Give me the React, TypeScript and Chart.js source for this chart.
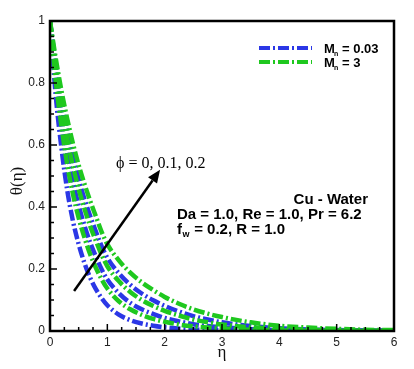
import React, { useEffect, useRef } from "react";
import { Chart, registerables } from "chart.js";

Chart.register(...registerables);

// eta values (x)
const ETA = [0, 0.1, 0.2, 0.3, 0.4, 0.5, 0.6, 0.7, 0.8, 0.9, 1.0, 1.2, 1.4, 1.6, 1.8, 2.0, 2.25, 2.5, 2.75, 3.0, 3.5, 4.0, 4.5, 5.0, 5.5, 6.0];

// Mn = 0.03 (blue), phi = 0, 0.1, 0.2
const BLUE_PHI0 = [1, 0.76, 0.59, 0.455, 0.355, 0.28, 0.22, 0.172, 0.135, 0.106, 0.083, 0.053, 0.035, 0.024, 0.017, 0.012, 0.008, 0.005, 0.003, 0.002, 0.001, 0, 0, 0, 0, 0];
const BLUE_PHI1 = [1, 0.826, 0.689, 0.574, 0.481, 0.405, 0.341, 0.286, 0.24, 0.199, 0.166, 0.122, 0.091, 0.07, 0.055, 0.042, 0.031, 0.022, 0.016, 0.012, 0.006, 0.003, 0.002, 0.001, 0.001, 0];
const BLUE_PHI2 = [1, 0.862, 0.746, 0.647, 0.562, 0.489, 0.426, 0.371, 0.321, 0.274, 0.236, 0.186, 0.149, 0.121, 0.099, 0.081, 0.063, 0.048, 0.037, 0.028, 0.016, 0.009, 0.005, 0.003, 0.002, 0.001];

// Mn = 3 (green), phi = 0, 0.1, 0.2
const GREEN_PHI0 = [1, 0.807, 0.66, 0.538, 0.442, 0.365, 0.302, 0.248, 0.204, 0.167, 0.137, 0.096, 0.07, 0.052, 0.039, 0.03, 0.021, 0.015, 0.011, 0.008, 0.004, 0.002, 0.001, 0.001, 0, 0];
const GREEN_PHI1 = [1, 0.85, 0.726, 0.621, 0.532, 0.458, 0.395, 0.339, 0.291, 0.246, 0.209, 0.161, 0.126, 0.1, 0.081, 0.065, 0.05, 0.037, 0.028, 0.021, 0.012, 0.007, 0.004, 0.002, 0.001, 0.001];
const GREEN_PHI2 = [1, 0.88, 0.775, 0.685, 0.605, 0.535, 0.475, 0.42, 0.37, 0.32, 0.28, 0.228, 0.188, 0.157, 0.132, 0.11, 0.088, 0.07, 0.056, 0.045, 0.028, 0.017, 0.011, 0.007, 0.004, 0.003];

const X_TICKS = [0, 1, 2, 3, 4, 5, 6];
const Y_TICKS = [0, 0.2, 0.4, 0.6, 0.8, 1];
const LEGEND_LABELS = ["0.03", "3"];
const PHI_LABEL = "\u03D5 = 0, 0.1, 0.2";
const ARROW_FROM = { x: 0.42, y: 0.129 };
const ARROW_TO = { x: 1.92, y: 0.52 };

const BLUE = "#2b37e6";
const GREEN = "#1fc81f";
const DASH = [11, 3, 2, 3];

const toPts = (ys: number[]) => ys.map((v, i) => ({ x: ETA[i], y: v }));

const mkSet = (ys: number[], color: string, order: number) => ({
  data: toPts(ys),
  borderColor: color,
  backgroundColor: color,
  borderWidth: 4.5,
  borderDash: DASH,
  borderCapStyle: "butt" as const,
  pointRadius: 0,
  cubicInterpolationMode: "monotone" as const,
  fill: false,
  order,
});

const decorPlugin = {
  id: "decor",
  afterDraw(chart: any) {
    const { ctx, chartArea, scales } = chart;
    const { left, right, top, bottom } = chartArea;
    const xs = scales.x;
    const ys = scales.y;
    ctx.save();
    ctx.strokeStyle = "#000";
    ctx.setLineDash([]);
    // inward ticks
    ctx.lineWidth = 1.5;
    for (let v = 0; v <= 1.0001; v += 0.05) {
      const py = ys.getPixelForValue(v);
      const major = Math.abs(v * 5 - Math.round(v * 5)) < 1e-6;
      ctx.beginPath();
      ctx.moveTo(left, py);
      ctx.lineTo(left + (major ? 7 : 4), py);
      ctx.stroke();
    }
    for (let v = 0; v <= 6.0001; v += 0.25) {
      const px = xs.getPixelForValue(v);
      const major = Math.abs(v - Math.round(v)) < 1e-6;
      ctx.beginPath();
      ctx.moveTo(px, bottom);
      ctx.lineTo(px, bottom - (major ? 7 : 4));
      ctx.stroke();
    }
    // frame
    ctx.lineWidth = 2.5;
    ctx.strokeRect(left, top, right - left, bottom - top);

    // axis titles
    ctx.fillStyle = "#111";
    ctx.font = "17px 'Liberation Serif'";
    ctx.textAlign = "center";
    ctx.textBaseline = "middle";
    ctx.fillText("\u03B7", (left + right) / 2, 353);
    ctx.save();
    ctx.translate(18, 181);
    ctx.rotate(-Math.PI / 2);
    ctx.fillText("\u03B8(\u03B7)", 0, 0);
    ctx.restore();

    // legend
    const legendColors = [BLUE, GREEN];
    LEGEND_LABELS.forEach((lab, i) => {
      const ly = 48 + i * 14;
      ctx.strokeStyle = legendColors[i];
      ctx.lineWidth = 4;
      ctx.setLineDash(DASH);
      ctx.beginPath();
      ctx.moveTo(259, ly);
      ctx.lineTo(312, ly);
      ctx.stroke();
      ctx.setLineDash([]);
      ctx.fillStyle = "#000";
      ctx.textAlign = "left";
      ctx.textBaseline = "alphabetic";
      ctx.font = "bold 13px 'Liberation Sans'";
      ctx.fillText("M", 324, ly + 5);
      ctx.font = "bold 7px 'Liberation Sans'";
      ctx.fillText("n", 334, ly + 8);
      ctx.font = "bold 13px 'Liberation Sans'";
      ctx.fillText("= " + lab, 342, ly + 5);
    });

    // phi label
    ctx.fillStyle = "#000";
    ctx.font = "16px 'Liberation Serif'";
    ctx.textAlign = "left";
    ctx.textBaseline = "middle";
    ctx.fillText(PHI_LABEL, 116, 164);

    // arrow
    const ax0 = xs.getPixelForValue(ARROW_FROM.x);
    const ay0 = ys.getPixelForValue(ARROW_FROM.y);
    const ax1 = xs.getPixelForValue(ARROW_TO.x);
    const ay1 = ys.getPixelForValue(ARROW_TO.y);
    const ang = Math.atan2(ay1 - ay0, ax1 - ax0);
    const hl = 13;
    const hw = 5.5;
    const bx = ax1 - hl * Math.cos(ang);
    const by = ay1 - hl * Math.sin(ang);
    ctx.strokeStyle = "#000";
    ctx.lineWidth = 2.5;
    ctx.beginPath();
    ctx.moveTo(ax0, ay0);
    ctx.lineTo(bx, by);
    ctx.stroke();
    ctx.beginPath();
    ctx.moveTo(ax1, ay1);
    ctx.lineTo(bx + hw * Math.sin(ang), by - hw * Math.cos(ang));
    ctx.lineTo(bx - hw * Math.sin(ang), by + hw * Math.cos(ang));
    ctx.closePath();
    ctx.fill();

    // parameter text
    ctx.fillStyle = "#000";
    ctx.textBaseline = "alphabetic";
    ctx.font = "bold 15px 'Liberation Sans'";
    ctx.textAlign = "right";
    ctx.fillText("Cu - Water", 368, 204);
    ctx.textAlign = "left";
    ctx.fillText("Da = 1.0, Re = 1.0, Pr = 6.2", 177, 219);
    ctx.fillText("f", 177, 234);
    const fw = ctx.measureText("f").width;
    ctx.font = "bold 9px 'Liberation Sans'";
    ctx.fillText("w", 177 + fw + 0.5, 237);
    const ww = ctx.measureText("w").width;
    ctx.font = "bold 15px 'Liberation Sans'";
    ctx.fillText(" = 0.2, R = 1.0", 177 + fw + ww + 1, 234);
    ctx.restore();
  },
};

export default function App() {
  const ref = useRef<HTMLCanvasElement | null>(null);
  useEffect(() => {
    document.body.style.margin = "0";
    const canvas = ref.current;
    if (!canvas) return;
    const chart = new Chart(canvas, {
      type: "line",
      data: {
        datasets: [
          mkSet(BLUE_PHI0, BLUE, 2),
          mkSet(BLUE_PHI1, BLUE, 2),
          mkSet(BLUE_PHI2, BLUE, 2),
          mkSet(GREEN_PHI0, GREEN, 1),
          mkSet(GREEN_PHI1, GREEN, 1),
          mkSet(GREEN_PHI2, GREEN, 1),
        ],
      },
      options: {
        responsive: false,
        animation: false,
        devicePixelRatio: 1,
        layout: { padding: { top: 21, right: 20, left: 0, bottom: 0 } },
        plugins: { legend: { display: false }, tooltip: { enabled: false } },
        scales: {
          x: {
            type: "linear",
            min: 0,
            max: 6,
            afterFit: (s: any) => { s.height = 38; },
            afterBuildTicks: (s: any) => { s.ticks = X_TICKS.map((v) => ({ value: v })); },
            ticks: {
              color: "#222",
              font: { family: "'Liberation Sans'", size: 12 },
              padding: 4,
              maxRotation: 0,
              callback: (v: any) => String(v),
            },
            grid: { display: false, drawTicks: false },
            border: { display: false },
          },
          y: {
            type: "linear",
            min: 0,
            max: 1,
            afterFit: (s: any) => { s.width = 50; },
            afterBuildTicks: (s: any) => { s.ticks = Y_TICKS.map((v) => ({ value: v })); },
            ticks: {
              color: "#222",
              font: { family: "'Liberation Sans'", size: 12 },
              padding: 5,
              callback: (v: any) => (v === 0 ? "0" : v === 1 ? "1" : Number(v).toFixed(1)),
            },
            grid: { display: false, drawTicks: false },
            border: { display: false },
          },
        },
      },
      plugins: [decorPlugin],
    });
    return () => chart.destroy();
  }, []);
  return (
    <div style={{ width: 414, height: 369, background: "#fff" }}>
      <canvas ref={ref} width={414} height={369} style={{ display: "block" }} />
    </div>
  );
}
